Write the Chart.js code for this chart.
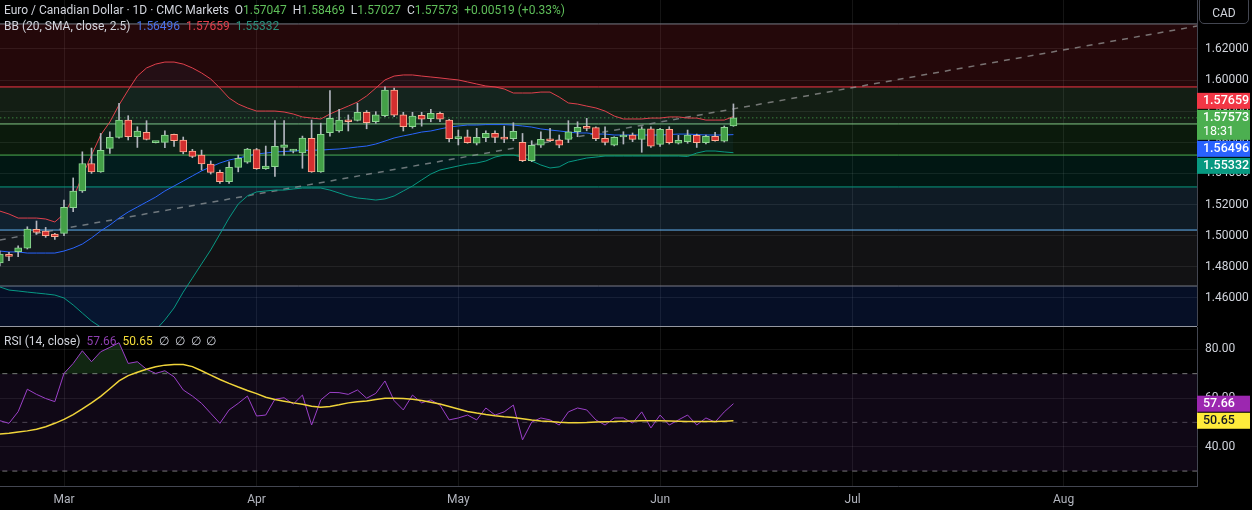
<!DOCTYPE html>
<html>
<head>
<meta charset="utf-8">
<script src="https://cdn.jsdelivr.net/npm/chart.js@4.4.1/dist/chart.umd.min.js"></script>
<style>
  html, body { margin: 0; padding: 0; background: #000; }
  #wrap { position: relative; width: 1252px; height: 510px; overflow: hidden; background: #000;
          font-family: Roboto, "Noto Sans", sans-serif; color: #d1d4dc; }
  canvas { position: absolute; left: 0; }
  #main { top: 0; }
  #rsi { top: 327px; }
  .lg { position: absolute; left: 4px; font-size: 12px; white-space: pre; }
  .g { color: #5fbf5a; }
  #sep { position: absolute; left: 0; top: 326px; width: 1197px; height: 1px; background: #9598a1; }
  #cad { position: absolute; left: 1199px; top: -4px; width: 50px; height: 28px; border: 1px solid #434651;
         border-radius: 5px; box-sizing: border-box; font-size: 12px; line-height: 32px; text-align: center; }
</style>
</head>
<body>
<div id="wrap">
  <canvas id="main" width="1252" height="326"></canvas>
  <div id="sep"></div>
  <canvas id="rsi" width="1252" height="183"></canvas>
  <div class="lg" style="top:3px">Euro / Canadian Dollar · 1D · CMC Markets  O<span class="g">1.57047</span>  H<span class="g">1.58469</span>  L<span class="g">1.57027</span>  C<span class="g">1.57573</span>  <span class="g">+0.00519 (+0.33%)</span></div>
  <div class="lg" style="top:19px">BB (20, SMA, close, 2.5)  <span style="color:#4a72e8">1.56496</span>  <span style="color:#e0404c">1.57659</span>  <span style="color:#2a8f7c">1.55332</span></div>
  <div class="lg" style="top:334px">RSI (14, close)  <span style="color:#8e3fb0">57.66</span>  <span style="color:#f5dd3a">50.65</span>  ∅  ∅  ∅  ∅</div>
  <div id="cad">CAD</div>
</div>
<script>
// バー番号 0 = 2025-03-03 (日足)
const FIRST_BAR = -7;
const X_MIN = -6.98;
const X_MAX = 123.55;

const opens = [1.4824, 1.4880, 1.4897, 1.4919, 1.5040, 1.5030, 1.5010,
  1.5015, 1.5180, 1.5288, 1.5464, 1.5410, 1.5561, 1.5632, 1.5743, 1.5636, 1.5664,
  1.5598, 1.5600, 1.5651, 1.5615, 1.5544, 1.5518, 1.5460, 1.5407, 1.5347, 1.5439,
  1.5472, 1.5554, 1.5430, 1.5444, 1.5567, 1.5543, 1.5532, 1.5626, 1.5410, 1.5662,
  1.5673, 1.5741, 1.5741, 1.5793, 1.5732, 1.5771, 1.5936, 1.5776, 1.5701, 1.5774,
  1.5752, 1.5787, 1.5743, 1.5624, 1.5636, 1.5594, 1.5630, 1.5658, 1.5632, 1.5624,
  1.5600, 1.5482, 1.5581, 1.5619, 1.5615, 1.5619, 1.5668, 1.5700, 1.5694, 1.5626,
  1.5581, 1.5634, 1.5647, 1.5619, 1.5687, 1.5587, 1.5683, 1.5594, 1.5604, 1.5645,
  1.5598, 1.5639, 1.5608, 1.57047];
const highs = [1.4901, 1.4893, 1.4934, 1.5057, 1.5094, 1.5053, 1.5015,
  1.5229, 1.5371, 1.5539, 1.5563, 1.5657, 1.5668, 1.5850, 1.5771, 1.5700, 1.5739,
  1.5605, 1.5674, 1.5653, 1.5634, 1.5555, 1.5550, 1.5480, 1.5422, 1.5475, 1.5518,
  1.5561, 1.5561, 1.5576, 1.5739, 1.5739, 1.5555, 1.5640, 1.5743, 1.5723, 1.5932,
  1.5812, 1.5776, 1.5851, 1.5804, 1.5797, 1.5957, 1.5949, 1.5793, 1.5793, 1.5793,
  1.5812, 1.5795, 1.5748, 1.5679, 1.5679, 1.5690, 1.5674, 1.5674, 1.5704, 1.5726,
  1.5657, 1.5610, 1.5668, 1.5690, 1.5647, 1.5739, 1.5732, 1.5754, 1.5700, 1.5700,
  1.5636, 1.5668, 1.5660, 1.5700, 1.5700, 1.5690, 1.5700, 1.5645, 1.5679, 1.5653,
  1.5647, 1.5664, 1.5705, 1.58469];
const lows = [1.4805, 1.4839, 1.4865, 1.4914, 1.5008, 1.4989, 1.4976,
  1.5000, 1.5154, 1.5278, 1.5400, 1.5407, 1.5529, 1.5626, 1.5615, 1.5567, 1.5615,
  1.5596, 1.5565, 1.5573, 1.5526, 1.5501, 1.5422, 1.5396, 1.5336, 1.5336, 1.5410,
  1.5465, 1.5426, 1.5426, 1.5381, 1.5518, 1.5532, 1.5433, 1.5407, 1.5407, 1.5640,
  1.5666, 1.5673, 1.5737, 1.5687, 1.5722, 1.5765, 1.5765, 1.5673, 1.5691, 1.5704,
  1.5732, 1.5732, 1.5602, 1.5583, 1.5594, 1.5583, 1.5604, 1.5598, 1.5598, 1.5610,
  1.5476, 1.5476, 1.5567, 1.5604, 1.5565, 1.5598, 1.5636, 1.5674, 1.5610, 1.5583,
  1.5577, 1.5589, 1.5604, 1.5536, 1.5567, 1.5573, 1.5589, 1.5589, 1.5594, 1.5567,
  1.5589, 1.5608, 1.5602, 1.57027];
const closes = [1.4882, 1.4867, 1.4921, 1.5042, 1.5021, 1.5000, 1.4993,
  1.5182, 1.5287, 1.5464, 1.5410, 1.5548, 1.5632, 1.5743, 1.5636, 1.5673, 1.5619,
  1.5602, 1.5647, 1.5610, 1.5539, 1.5510, 1.5461, 1.5407, 1.5347, 1.5439, 1.5497,
  1.5557, 1.5430, 1.5448, 1.5574, 1.5584, 1.5545, 1.5627, 1.5410, 1.5651, 1.5755,
  1.5743, 1.5732, 1.5793, 1.5726, 1.5776, 1.5936, 1.5774, 1.5701, 1.5769, 1.5748,
  1.5787, 1.5748, 1.5624, 1.5633, 1.5598, 1.5632, 1.5658, 1.5632, 1.5621, 1.5671,
  1.5482, 1.5581, 1.5619, 1.5610, 1.5581, 1.5668, 1.5697, 1.5690, 1.5624, 1.5600,
  1.5632, 1.5637, 1.5619, 1.5687, 1.5576, 1.5683, 1.5598, 1.5613, 1.5647, 1.5598,
  1.5639, 1.5610, 1.5697, 1.57573];

// ボリンジャーバンド (20, 2.5)
const bbUpper = [1.5158, 1.5139, 1.5113, 1.5113, 1.5113, 1.5107, 1.5088,
  1.5139, 1.5242, 1.5384, 1.5518, 1.5647, 1.5731, 1.5840, 1.5936, 1.6026, 1.6078,
  1.6103, 1.6116, 1.6116, 1.6103, 1.6078, 1.6046, 1.6007, 1.5949, 1.5885, 1.5846,
  1.5821, 1.5801, 1.5801, 1.5801, 1.5795, 1.5782, 1.5763, 1.5756, 1.5750, 1.5782,
  1.5808, 1.5833, 1.5859, 1.5898, 1.5949, 1.6001, 1.6026, 1.6033, 1.6033, 1.6026,
  1.6020, 1.6014, 1.6007, 1.6001, 1.5988, 1.5975, 1.5962, 1.5956, 1.5943, 1.5917,
  1.5917, 1.5917, 1.5923, 1.5923, 1.5891, 1.5853, 1.5846, 1.5833, 1.5821, 1.5801,
  1.5769, 1.5750, 1.5750, 1.5750, 1.5756, 1.5756, 1.5763, 1.5763, 1.5756, 1.5756,
  1.5743, 1.5743, 1.5743, 1.57659];
const bbBasis = [1.4901, 1.4895, 1.4895, 1.4888, 1.4888, 1.4888, 1.4888,
  1.4901, 1.4920, 1.4946, 1.4985, 1.5030, 1.5068, 1.5113, 1.5152, 1.5184, 1.5216,
  1.5248, 1.5287, 1.5319, 1.5351, 1.5384, 1.5416, 1.5442, 1.5467, 1.5486, 1.5499,
  1.5512, 1.5525, 1.5531, 1.5538, 1.5541, 1.5544, 1.5547, 1.5550, 1.5550, 1.5554,
  1.5557, 1.5563, 1.5570, 1.5576, 1.5589, 1.5608, 1.5628, 1.5641, 1.5653, 1.5666,
  1.5673, 1.5686, 1.5698, 1.5705, 1.5711, 1.5711, 1.5714, 1.5714, 1.5714, 1.5711,
  1.5705, 1.5698, 1.5686, 1.5679, 1.5673, 1.5666, 1.5660, 1.5660, 1.5653, 1.5653,
  1.5647, 1.5647, 1.5647, 1.5647, 1.5647, 1.5647, 1.5650, 1.5653, 1.5653, 1.5650,
  1.5647, 1.5647, 1.5647, 1.56496];
const bbLower = [1.4670, 1.4650, 1.4644, 1.4637, 1.4631, 1.4625, 1.4618,
  1.4599, 1.4554, 1.4502, 1.4451, 1.4412, 1.4393, 1.4374, 1.4354, 1.4342, 1.4354,
  1.4393, 1.4458, 1.4535, 1.4637, 1.4727, 1.4818, 1.4908, 1.5010, 1.5113, 1.5203,
  1.5255, 1.5281, 1.5287, 1.5293, 1.5293, 1.5300, 1.5306, 1.5306, 1.5306, 1.5293,
  1.5274, 1.5255, 1.5242, 1.5236, 1.5229, 1.5236, 1.5255, 1.5287, 1.5319, 1.5358,
  1.5396, 1.5422, 1.5435, 1.5448, 1.5460, 1.5467, 1.5480, 1.5505, 1.5518, 1.5518,
  1.5505, 1.5480, 1.5454, 1.5435, 1.5442, 1.5473, 1.5486, 1.5499, 1.5505, 1.5512,
  1.5512, 1.5512, 1.5512, 1.5512, 1.5512, 1.5512, 1.5512, 1.5512, 1.5509, 1.5531,
  1.5544, 1.5544, 1.5538, 1.55332];

// RSI (14) とその移動平均
const rsiValues = [50.7, 49.6, 54.4, 63.6, 61.5, 59.8, 58.5,
  70.1, 74.2, 79.4, 74.9, 79.0, 80.8, 82.7, 74.2, 74.9, 71.8,
  70.1, 71.2, 68.7, 63.3, 60.8, 57.8, 53.7, 49.6, 55.1, 57.8,
  60.8, 52.6, 53.0, 59.5, 60.1, 57.5, 61.2, 48.9, 59.2, 62.3,
  62.2, 61.5, 63.3, 59.9, 61.9, 67.0, 58.9, 55.1, 61.2, 58.0,
  59.2, 57.1, 51.0, 51.8, 53.0, 51.0, 55.9, 53.0, 54.3, 57.1,
  42.8, 50.1, 51.8, 51.0, 48.9, 54.3, 55.9, 55.1, 51.0, 48.9,
  51.8, 51.8, 49.7, 54.3, 47.7, 53.0, 48.9, 51.0, 53.0, 48.9,
  51.8, 50.1, 54.3, 57.66];
const rsiMa = [45.2, 45.5, 46.0, 46.5, 47.2, 48.2, 49.6,
  51.2, 53.2, 55.5, 58.0, 60.7, 63.8, 67.0, 69.2, 70.6, 71.8,
  72.8, 73.5, 73.8, 73.8, 72.9, 71.2, 69.4, 67.6, 66.0, 64.5,
  63.1, 61.8, 60.3, 59.4, 58.7, 58.0, 57.4, 56.6, 56.2, 56.5,
  57.2, 58.0, 58.5, 58.8, 59.4, 59.9, 59.9, 59.8, 59.5, 59.0,
  58.3, 57.5, 56.5, 55.5, 54.5, 53.8, 53.2, 52.7, 52.3, 52.0,
  51.5, 51.0, 50.6, 50.3, 50.0, 49.8, 49.8, 49.9, 50.1, 50.2,
  50.3, 50.5, 50.6, 50.7, 50.7, 50.7, 50.6, 50.5, 50.4, 50.4,
  50.4, 50.4, 50.5, 50.65];

// 軸
const monthTicks = [0, 21, 43, 65, 86, 109];
const monthLabels = ["Mar", "Apr", "May", "Jun", "Jul", "Aug"];
const priceTicks = [1.46, 1.48, 1.50, 1.52, 1.54, 1.56, 1.58, 1.60, 1.62];
const rsiTicks = [40, 60, 80];

// フィボナッチ (0 → 1.618) とトレンドライン
const fibLevels = [1.6361, 1.5956, 1.5718, 1.5518, 1.5313, 1.5036, 1.4676, 1.3635];
const fibColors = ["#787b86", "#f23645", "#81c784", "#4caf50", "#089981", "#64b5f6", "#787b86", "#2962ff"];
const trendBars = [-7, 124];
const trendPrices = [1.4972, 1.6352];

const barIdx = opens.map((_, k) => FIRST_BAR + k);
const last = opens.length - 1;

function rgba(hex, a) {
  const n = parseInt(hex.slice(1), 16);
  return `rgba(${(n >> 16) & 255},${(n >> 8) & 255},${n & 255},${a})`;
}
function isUp(k) { return closes[k] >= opens[k]; }
function series(values) { return values.map((v, k) => ({ x: barIdx[k], y: v })); }
function hLine(v) { return [{ x: -10, y: v }, { x: 130, y: v }]; }

const FONT = "Roboto, 'Noto Sans', sans-serif";
const GRID = "rgba(255,255,255,0.08)";

function monthAxis(showLabels) {
  return {
    type: "linear", min: X_MIN, max: X_MAX, offset: false,
    afterBuildTicks: (s) => { s.ticks = monthTicks.map((v) => ({ value: v })); },
    afterFit: (s) => {
      s.height = showLabels ? 24 : 0;
      s.paddingLeft = 0;
      s.paddingRight = 0;
    },
    grid: { color: GRID, drawTicks: false, offset: false },
    border: { display: showLabels, color: "#434651" },
    ticks: {
      display: showLabels, autoSkip: false, maxRotation: 0, padding: 7,
      color: "#b2b5be", font: { family: FONT, size: 12 },
      callback: (v) => monthLabels[monthTicks.indexOf(v)] || "",
    },
  };
}

function valueAxis(lo, hi, tickValues, digits) {
  return {
    position: "right", min: lo, max: hi,
    afterBuildTicks: (s) => { s.ticks = tickValues.map((v) => ({ value: v })); },
    afterFit: (s) => {
      s.width = 55;
      s.paddingTop = 0;
      s.paddingBottom = 0;
    },
    grid: { color: GRID, drawTicks: false },
    border: { display: true, color: "#434651" },
    ticks: { padding: 8, color: "#d1d4dc", font: { family: FONT, size: 12 }, callback: (v) => v.toFixed(digits) },
  };
}

// 右側の値ラベル
function drawTag(ctx, top, h, bg, fg, lines) {
  ctx.fillStyle = bg;
  ctx.fillRect(1197, top, 53, h);
  ctx.fillStyle = fg;
  ctx.textBaseline = "middle";
  ctx.textAlign = "left";
  lines.forEach((t, j) => {
    ctx.font = (j === 0 ? "500 " : "400 ") + "12.5px " + FONT;
    ctx.fillText(t, 1203, top + 8 + j * 14);
  });
}

const priceTags = {
  id: "priceTags",
  afterDraw(chart) {
    const { ctx } = chart;
    const y = chart.scales.y;
    let top = y.getPixelForValue(closes[last]) - 8 - 17;
    ctx.save();
    drawTag(ctx, top, 16, "#f23645", "#fff", [bbUpper[last].toFixed(5)]);
    top += 17;
    drawTag(ctx, top, 30, "#4caf50", "#fff", [closes[last].toFixed(5), "18:31"]);
    top += 31;
    drawTag(ctx, top, 16, "#2962ff", "#fff", [bbBasis[last].toFixed(5)]);
    top += 17;
    drawTag(ctx, top, 16, "#089981", "#fff", [bbLower[last].toFixed(5)]);
    ctx.restore();
  },
};

const rsiTags = {
  id: "rsiTags",
  afterDraw(chart) {
    const { ctx } = chart;
    const y = chart.scales.y;
    ctx.save();
    drawTag(ctx, y.getPixelForValue(rsiValues[last]) - 8, 16, "#9c27b0", "#fff", [rsiValues[last].toFixed(2)]);
    drawTag(ctx, y.getPixelForValue(rsiMa[last]) - 8, 16, "#ffeb3b", "#131722", [rsiMa[last].toFixed(2)]);
    ctx.restore();
  },
};

// メインチャート
const fibSets = fibLevels.map((v, k) => ({
  type: "line", data: hLine(v),
  borderColor: fibColors[k], borderWidth: 1, pointRadius: 0,
  fill: k < fibLevels.length - 1 ? "+1" : false,
  backgroundColor: k < fibLevels.length - 1 ? rgba(fibColors[k + 1], 0.15) : "transparent",
  order: 20,
}));

new Chart(document.getElementById("main"), {
  type: "bar",
  data: {
    datasets: [
      ...fibSets,
      { type: "line", data: series(bbUpper), borderColor: "#e0404c", borderWidth: 1, pointRadius: 0,
        fill: "+2", backgroundColor: "rgba(33,150,243,0.05)", order: 10 },
      { type: "line", data: series(bbBasis), borderColor: "#2962ff", borderWidth: 1, pointRadius: 0, fill: false, order: 10 },
      { type: "line", data: series(bbLower), borderColor: "#089981", borderWidth: 1, pointRadius: 0, fill: false, order: 10 },
      { type: "line", data: trendBars.map((x, k) => ({ x, y: trendPrices[k] })),
        borderColor: "rgba(150,150,150,0.75)", borderWidth: 1.5, borderDash: [6, 6], pointRadius: 0, fill: false, order: 12 },
      { type: "line", data: hLine(closes[last]), borderColor: "#4caf50", borderWidth: 1, borderDash: [1, 3],
        pointRadius: 0, fill: false, order: 12 },
      { type: "bar", data: barIdx.map((x, k) => ({ x, y: [lows[k], highs[k]] })),
        backgroundColor: "#b2b5be", barThickness: 1, grouped: false, order: 3 },
      { type: "bar", data: barIdx.map((x, k) => ({ x, y: [opens[k], closes[k]] })),
        backgroundColor: (c) => (isUp(c.dataIndex) ? "#43a047" : "#d32f2f"),
        borderColor: (c) => (isUp(c.dataIndex) ? "#8fd694" : "#ffab91"),
        borderWidth: 1, borderSkipped: false, barThickness: 7, minBarLength: 2, grouped: false, order: 2 },
    ],
  },
  options: {
    responsive: false, animation: false,
    layout: { padding: 0 },
    plugins: { legend: { display: false }, tooltip: { enabled: false } },
    scales: {
      x: monthAxis(false),
      y: valueAxis(1.4419, 1.6515, priceTicks, 5),
    },
  },
  plugins: [priceTags],
});

// RSI
new Chart(document.getElementById("rsi"), {
  type: "line",
  data: {
    datasets: [
      { data: hLine(70), borderColor: "rgba(200,200,200,0.6)", borderWidth: 1, borderDash: [5, 5], pointRadius: 0,
        fill: { value: 30 }, backgroundColor: "rgba(126,60,170,0.13)", order: 5 },
      { data: hLine(50), borderColor: "rgba(200,200,200,0.35)", borderWidth: 1, borderDash: [5, 5], pointRadius: 0, fill: false, order: 5 },
      { data: hLine(30), borderColor: "rgba(200,200,200,0.6)", borderWidth: 1, borderDash: [5, 5], pointRadius: 0, fill: false, order: 5 },
      { data: series(rsiValues), borderColor: "#9b40c8", borderWidth: 1, pointRadius: 0,
        fill: { target: { value: 70 }, above: "rgba(76,175,80,0.22)", below: "transparent" }, order: 2 },
      { data: series(rsiMa), borderColor: "#f0d43a", borderWidth: 1.5, pointRadius: 0, fill: false, order: 1 },
    ],
  },
  options: {
    responsive: false, animation: false,
    layout: { padding: 0 },
    plugins: { legend: { display: false }, tooltip: { enabled: false } },
    scales: {
      x: monthAxis(true),
      y: valueAxis(23.86, 89.16, rsiTicks, 2),
    },
  },
  plugins: [rsiTags],
});
</script>
</body>
</html>
